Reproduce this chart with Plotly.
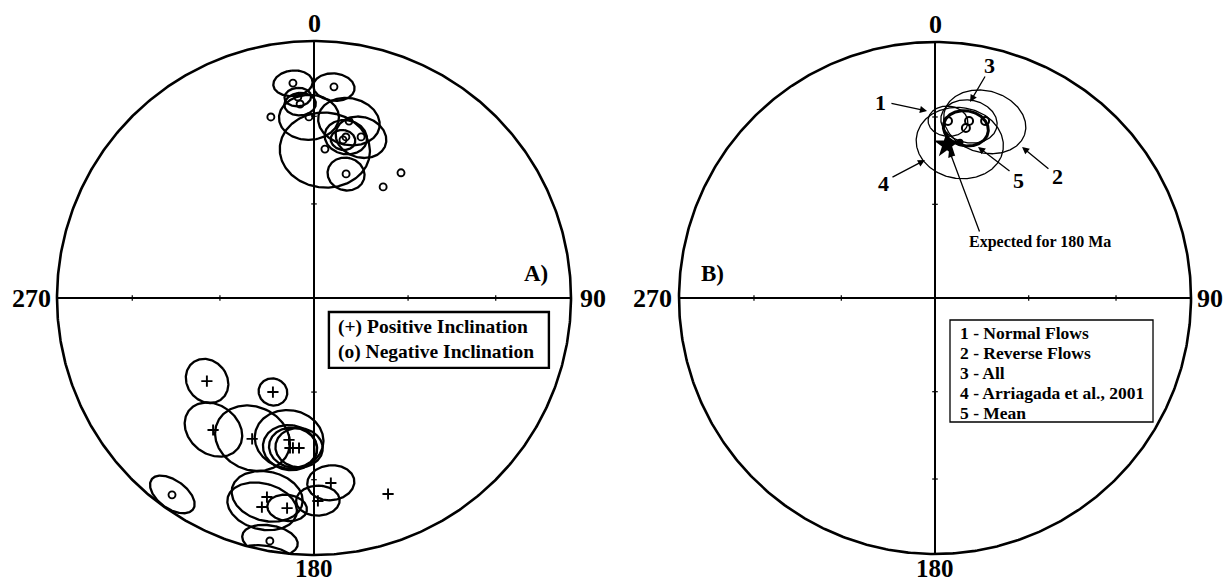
import numpy as np
import plotly.graph_objects as go

# ---------------- Panel A: site mean directions ----------------
# Negative inclination sites (declination, inclination, alpha95 in degrees; 0 = no cone drawn)
neg_dec = [354.4, 5.4, 355.4, 355.9, 346.6, 358.4, 11.2, 11.2, 16.3, 10.4, 4.2, 14.5, 34.8, 31.9, 215.8, 190.3]
neg_inc = [-17.1, -18.6, -22.6, -25.3, -28.4, -30.2, -30.5, -36.3, -35.0, -37.5, -41.5, -48.7, -40.4, -47.8, -6.2, -4.4]
neg_a95 = [5.0, 5.3, 3.5, 4.2, 0, 8.2, 8.5, 6.0, 7.2, 3.5, 13.0, 5.5, 0, 0, 6.0, 6.5]

# Positive inclination sites
pos_dec = [232.2, 203.6, 217.4, 203.7, 190.0, 189.1, 185.7, 188.0, 174.8, 178.9, 193.3, 194.0, 187.3, 159.3]
pos_inc = [46.2, 57.2, 35.6, 39.9, 43.3, 40.6, 41.0, 40.8, 28.5, 22.1, 21.5, 17.3, 18.7, 19.6]
pos_a95 = [6.8, 4.4, 8.7, 11.0, 10.0, 7.8, 6.8, 6.9, 6.4, 5.7, 9.4, 9.0, 5.1, 0]

legend_a = ["(+) Positive Inclination", "(o) Negative Inclination"]

# ---------------- Panel B: formation means ----------------
mean_names = ["Normal Flows", "Reverse Flows", "All", "Arriagada et al., 2001", "Mean"]
mean_dec = [4.2, 15.8, 10.9, 9.1, 10.3]
mean_inc = [-31.3, -28.9, -30.3, -38.3, -33.0]
mean_a95 = [5.5, 11.4, 7.8, 12.5, 6.3]

expected_label = "Expected for 180 Ma"
expected_dec = [4.5]
expected_inc = [-39.8]

dir_labels = ["0", "90", "180", "270"]

# ---------------- projection helpers (equal-area, Schmidt net) ----------------
SQ2 = np.sqrt(2.0)


def project(dec_deg, inc_deg):
    d = np.radians(np.asarray(dec_deg, dtype=float))
    i = np.radians(np.abs(np.asarray(inc_deg, dtype=float)))
    r = SQ2 * np.sin((np.pi / 2 - i) / 2)
    return r * np.sin(d), r * np.cos(d)


def cone(dec_deg, inc_deg, a95_deg, n=241):
    d, i, a = np.radians([dec_deg, inc_deg, a95_deg])
    c = np.array([np.cos(i) * np.cos(d), np.cos(i) * np.sin(d), np.sin(i)])
    u = np.array([-np.sin(i) * np.cos(d), -np.sin(i) * np.sin(d), np.cos(i)])
    v = np.array([-np.sin(d), np.cos(d), 0.0])
    phi = np.linspace(0, 2 * np.pi, n)
    p = c[:, None] * np.cos(a) + (u[:, None] * np.cos(phi) + v[:, None] * np.sin(phi)) * np.sin(a)
    inc_p = np.degrees(np.arcsin(np.clip(p[2], -1, 1)))
    dec_p = np.degrees(np.arctan2(p[1], p[0]))
    return project(dec_p, inc_p)


fig = go.Figure()
FONT = "Liberation Serif"


def net_frame(xa, ya):
    t = np.linspace(0, 2 * np.pi, 721)
    fig.add_trace(go.Scatter(x=np.cos(t), y=np.sin(t), mode="lines",
                             line=dict(color="black", width=2.6), hoverinfo="skip",
                             xaxis=xa, yaxis=ya, showlegend=False))
    fig.add_trace(go.Scatter(x=[-1, 1, None, 0, 0], y=[0, 0, None, -1, 1], mode="lines",
                             line=dict(color="black", width=2.0), hoverinfo="skip",
                             xaxis=xa, yaxis=ya, showlegend=False))
    # graticule ticks at 30 and 60 degrees inclination
    rt = [SQ2 * np.sin(np.radians(15)), SQ2 * np.sin(np.radians(30))]
    fig.add_trace(go.Scatter(x=[0, 0, 0, 0], y=[rt[0], rt[1], -rt[0], -rt[1]], mode="markers",
                             marker=dict(symbol="line-ew", size=4, line=dict(color="black", width=1.2)),
                             hoverinfo="skip", xaxis=xa, yaxis=ya, showlegend=False))
    fig.add_trace(go.Scatter(x=[rt[0], rt[1], -rt[0], -rt[1]], y=[0, 0, 0, 0], mode="markers",
                             marker=dict(symbol="line-ns", size=4, line=dict(color="black", width=1.2)),
                             hoverinfo="skip", xaxis=xa, yaxis=ya, showlegend=False))


def cones(decs, incs, a95s, xa, ya, width):
    xs, ys = [], []
    for d, i, a in zip(decs, incs, a95s):
        if a <= 0:
            continue
        cx, cy = cone(d, i, a)
        xs += list(cx) + [None]
        ys += list(cy) + [None]
    fig.add_trace(go.Scatter(x=xs, y=ys, mode="lines", line=dict(color="black", width=width),
                             hoverinfo="skip", xaxis=xa, yaxis=ya, showlegend=False))


# ---------------- Panel A ----------------
net_frame("x", "y")
cones(neg_dec, neg_inc, neg_a95, "x", "y", 2.3)
cones(pos_dec, pos_inc, pos_a95, "x", "y", 2.3)
nx, ny = project(neg_dec, neg_inc)
fig.add_trace(go.Scatter(x=nx, y=ny, mode="markers",
                         marker=dict(symbol="circle-open", size=7, color="black", line=dict(width=1.9)),
                         xaxis="x", yaxis="y", showlegend=False))
px_, py_ = project(pos_dec, pos_inc)
fig.add_trace(go.Scatter(x=px_, y=py_, mode="markers",
                         marker=dict(symbol="cross-thin-open", size=8, color="black", line=dict(width=1.9, color="black")),
                         xaxis="x", yaxis="y", showlegend=False))

# ---------------- Panel B ----------------
net_frame("x2", "y2")
thin_idx = [k for k in range(len(mean_names)) if mean_names[k] != "Mean"]
cones([mean_dec[k] for k in thin_idx], [mean_inc[k] for k in thin_idx],
      [mean_a95[k] for k in thin_idx], "x2", "y2", 1.3)
k_mean = mean_names.index("Mean")
cones([mean_dec[k_mean]], [mean_inc[k_mean]], [mean_a95[k_mean]], "x2", "y2", 3.0)
k_arr = mean_names.index("Arriagada et al., 2001")
open_idx = [k for k in range(len(mean_names)) if k != k_arr]
mx, my = project([mean_dec[k] for k in open_idx], [mean_inc[k] for k in open_idx])
fig.add_trace(go.Scatter(x=mx, y=my, mode="markers",
                         marker=dict(symbol="circle-open", size=8, color="black", line=dict(width=2)),
                         xaxis="x2", yaxis="y2", showlegend=False))
ax_, ay_ = project([mean_dec[k_arr]], [mean_inc[k_arr]])
fig.add_trace(go.Scatter(x=ax_, y=ay_, mode="markers",
                         marker=dict(symbol="circle", size=7, color="black"),
                         xaxis="x2", yaxis="y2", showlegend=False))
ex, ey = project(expected_dec, expected_inc)
fig.add_trace(go.Scatter(x=ex, y=ey, mode="markers",
                         marker=dict(symbol="star", size=20, color="black"),
                         xaxis="x2", yaxis="y2", showlegend=False))

# ---------------- text ----------------
ann = []


def txt(x, y, s, size, xr, yr, xanchor="center"):
    ann.append(dict(x=x, y=y, text=s, showarrow=False, xref=xr, yref=yr, align="left",
                    xanchor=xanchor, yanchor="middle", font=dict(family=FONT, size=size, color="black")))


def bold(s):
    return "<b>" + s + "</b>"


def arrow(tail, tip, xr, yr):
    ann.append(dict(x=tip[0], y=tip[1], ax=tail[0], ay=tail[1], xref=xr, yref=yr, axref=xr, ayref=yr,
                    text="", showarrow=True, arrowhead=2, arrowsize=1.1, arrowwidth=1.3, arrowcolor="black",
                    standoff=0, startstandoff=0))


for xr, yr, pos in [("x", "y", [(0, 1.07), (1.086, 0.0), (0, -1.052), (-1.101, 0.0)]),
                    ("x2", "y2", [(0, 1.07), (1.074, 0.0), (0, -1.056), (-1.105, 0.0)])]:
    for s, (x, y) in zip(dir_labels, pos):
        txt(x, y, bold(s), 26 if s != "180" else 25, xr, yr)

txt(0.862, 0.097, bold("A)"), 23, "x", "y")
txt(-0.870, 0.097, bold("B)"), 23, "x2", "y2")

# legend boxes
shapes = [
    dict(type="rect", xref="x", yref="y", x0=0.058, x1=0.914, y0=-0.0545, y1=-0.272,
         line=dict(color="black", width=2.4)),
    dict(type="rect", xref="x2", yref="y2", x0=0.0586, x1=0.8516, y0=-0.0859, y1=-0.4844,
         line=dict(color="black", width=1.3)),
]
txt(0.084, -0.163, "<br>".join(bold(s) for s in legend_a), 19.5, "x", "y", "left")
for k, s in enumerate(mean_names):
    txt(0.0898, -0.1367 - 0.0781 * k, bold(f"{k + 1} - {s}"), 17.5, "x2", "y2", "left")

# numbered pointers in panel B
num_pos = [(-0.211, 0.7656), (0.4766, 0.4727), (0.2148, 0.9063), (-0.2031, 0.4492), (0.3281, 0.4609)]
num_arrows = [((-0.176, 0.762), (-0.031, 0.730)),
              ((0.449, 0.500), (0.340, 0.590)),
              ((0.199, 0.871), (0.137, 0.766)),
              ((-0.172, 0.469), (-0.039, 0.539)),
              ((0.297, 0.492), (0.168, 0.590))]
for k in range(len(mean_names)):
    txt(num_pos[k][0], num_pos[k][1], bold(str(k + 1)), 22, "x2", "y2")
    arrow(num_arrows[k][0], num_arrows[k][1], "x2", "y2")
txt(0.4102, 0.2188, bold(expected_label), 16, "x2", "y2")
arrow((0.176, 0.254), (0.055, 0.578), "x2", "y2")

W, H = 1227, 582
R1, C1 = 257.0, (314.0, 298.0)
R2, C2 = 256.0, (935.0, 298.0)
half = W / 2
fig.update_layout(
    width=W, height=H, margin=dict(l=0, r=0, t=0, b=0, pad=0),
    paper_bgcolor="white", plot_bgcolor="white",
    xaxis=dict(domain=[0, 0.5], range=[-C1[0] / R1, (half - C1[0]) / R1], visible=False, fixedrange=True),
    yaxis=dict(domain=[0, 1], range=[(C1[1] - H) / R1, C1[1] / R1], visible=False, fixedrange=True),
    xaxis2=dict(domain=[0.5, 1], range=[-(C2[0] - half) / R2, (W - C2[0]) / R2], visible=False, fixedrange=True),
    yaxis2=dict(domain=[0, 1], range=[(C2[1] - H) / R2, C2[1] / R2], visible=False, fixedrange=True,
                anchor="x2"),
    annotations=ann, shapes=shapes, showlegend=False,
)
fig.write_html("out.html")
